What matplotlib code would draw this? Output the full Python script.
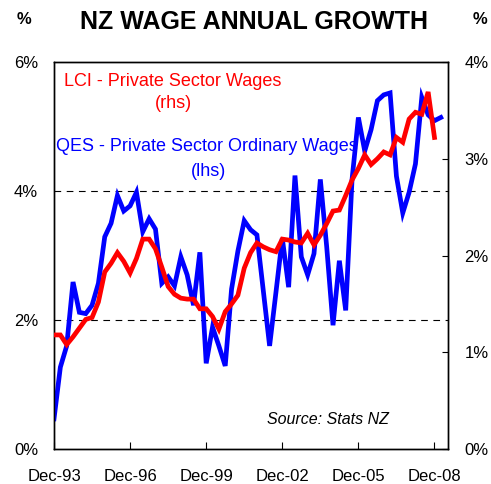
import matplotlib
matplotlib.use("Agg")
import matplotlib.pyplot as plt

plt.rcParams['font.family'] = ['Liberation Sans', 'DejaVu Sans']

# QES - private sector ordinary wages, annual % (lhs), quarterly from Dec-93
qes = [0.47, 1.27, 1.60, 2.59, 2.12, 2.10, 2.23, 2.57, 3.29, 3.50,
       3.93, 3.69, 3.77, 3.98, 3.37, 3.57, 3.41, 2.57, 2.67, 2.53,
       2.98, 2.70, 2.23, 3.05, 1.33, 1.89, 1.60, 1.29, 2.48, 3.07,
       3.54, 3.40, 3.32, 2.46, 1.60, 2.43, 3.27, 2.51, 4.24, 2.98,
       2.70, 3.03, 4.18, 3.14, 1.92, 2.92, 2.15, 4.18, 5.14, 4.62,
       4.95, 5.40, 5.49, 5.52, 4.23, 3.66, 3.98, 4.42, 5.45, 5.18,
       5.09, 5.14]

# LCI - private sector wages, annual % (rhs), quarterly from Dec-93
lci = [1.18, 1.18, 1.08, 1.16, 1.25, 1.34, 1.36, 1.52, 1.83, 1.92,
       2.03, 1.94, 1.82, 1.97, 2.17, 2.17, 2.07, 1.88, 1.68, 1.60,
       1.56, 1.55, 1.55, 1.45, 1.45, 1.37, 1.24, 1.42, 1.50, 1.59,
       1.87, 2.03, 2.13, 2.09, 2.06, 2.04, 2.17, 2.16, 2.14, 2.13,
       2.23, 2.11, 2.21, 2.33, 2.46, 2.47, 2.62, 2.78, 2.90, 3.04,
       2.94, 3.00, 3.07, 3.04, 3.22, 3.17, 3.41, 3.48, 3.46, 3.69,
       3.22]

tick_pos = [0, 12, 24, 36, 48, 60]
tick_labels = ['Dec-93', 'Dec-96', 'Dec-99', 'Dec-02', 'Dec-05', 'Dec-08']
left_ticks = [0, 2, 4, 6]
right_ticks = [0, 1, 2, 3, 4]

fig = plt.figure(figsize=(4.91, 4.84), dpi=100)
ax = fig.add_axes([0.110, 0.072, 0.802, 0.800])
ax2 = ax.twinx()

ax.plot(range(len(qes)), qes, color='#0000ff', lw=3.4, solid_joinstyle='miter', zorder=3)
ax2.plot(range(len(lci)), lci, color='#ff0000', lw=3.4, solid_joinstyle='miter', zorder=3)

# dashed gridlines
for g in [2, 4]:
    ax.axhline(g, color='black', lw=0.8, ls=(0, (6, 5)), zorder=1)

ax.set_xlim(0, 62.1)
ax.set_ylim(0, 6)
ax2.set_ylim(0, 4)

ax.set_xticks(tick_pos)
ax.set_xticklabels(tick_labels, fontsize=12)
ax.set_yticks(left_ticks)
ax.set_yticklabels([f'{t}%' for t in left_ticks], fontsize=12)
ax2.set_yticks(right_ticks)
ax2.set_yticklabels([f'{t}%' for t in right_ticks], fontsize=12)

ax.tick_params(axis='x', direction='in', length=5, width=0.8, pad=14)
ax.tick_params(axis='y', direction='in', length=0, pad=11.5)
ax2.tick_params(axis='y', direction='in', length=4, width=0.8, pad=12)

for a in (ax, ax2):
    for s in a.spines.values():
        s.set_linewidth(1.0)
        s.set_color('black')

# title and unit labels
fig.text(0.518, 1 - 22 / 484, 'NZ WAGE ANNUAL GROWTH', ha='center', va='center',
         fontsize=18, fontweight='bold')
fig.text(24 / 491, 1 - 20 / 484, '%', ha='center', va='center', fontsize=12, fontweight='bold')
fig.text(480 / 491, 1 - 20 / 484, '%', ha='center', va='center', fontsize=12, fontweight='bold')

# series annotations
fig.text(173 / 491, 1 - 81 / 484, 'LCI - Private Sector Wages', color='#ff0000',
         ha='center', va='center', fontsize=13)
fig.text(173 / 491, 1 - 104 / 484, '(rhs)', color='#ff0000',
         ha='center', va='center', fontsize=13)
fig.text(207 / 491, 1 - 147 / 484, 'QES - Private Sector Ordinary Wages', color='#0000ff',
         ha='center', va='center', fontsize=13)
fig.text(208 / 491, 1 - 171 / 484, '(lhs)', color='#0000ff',
         ha='center', va='center', fontsize=13)

fig.text(328 / 491, 1 - 420 / 484, 'Source: Stats NZ', ha='center', va='center',
         fontsize=11.5, style='italic')

fig.savefig('out.png', dpi=100)
